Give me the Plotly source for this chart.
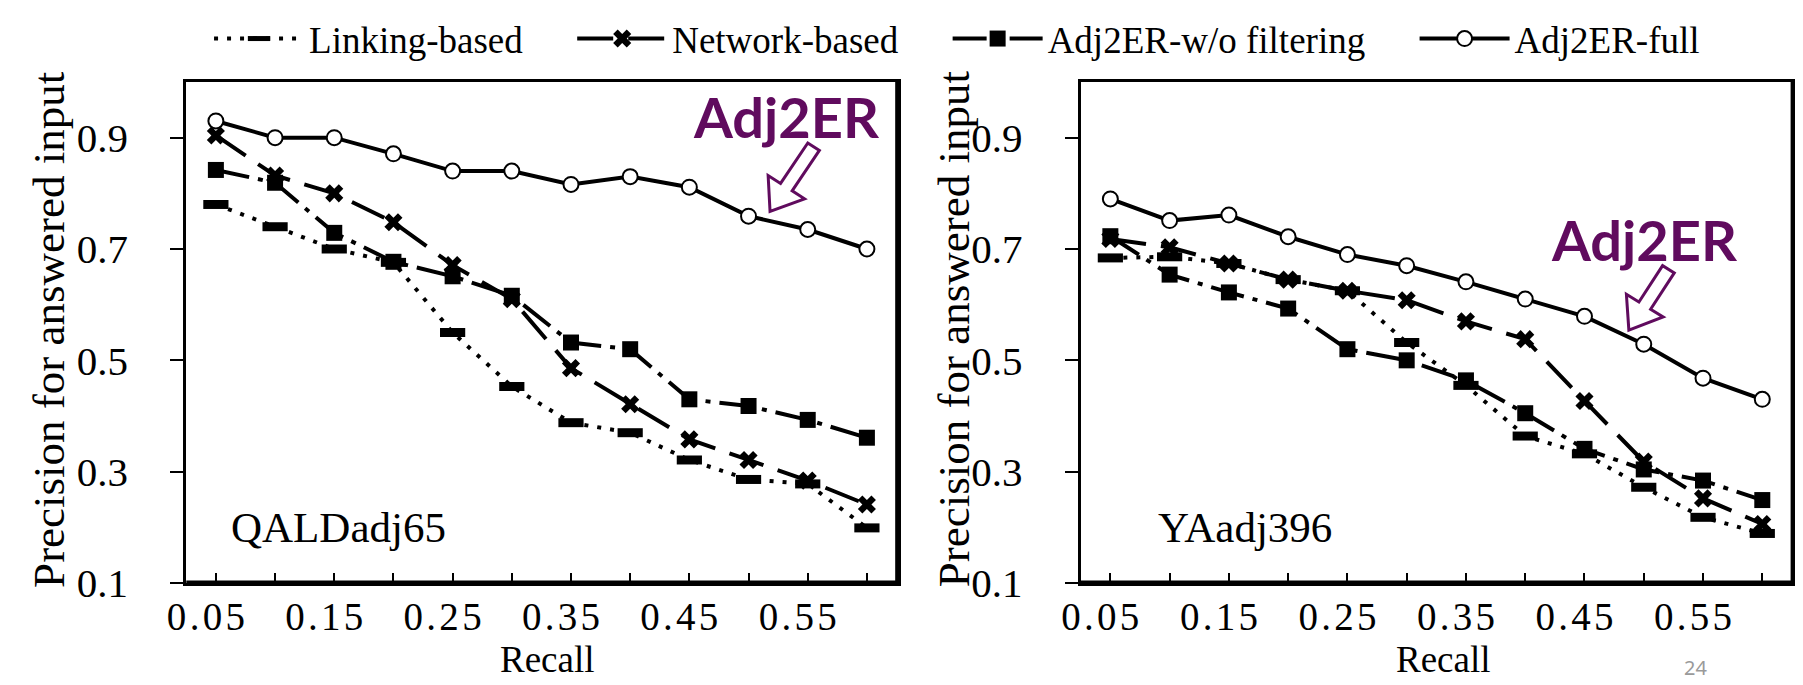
import plotly.graph_objects as go
import math

# ---------------- data ----------------
recall = [0.05, 0.10, 0.15, 0.20, 0.25, 0.30, 0.35, 0.40, 0.45, 0.50, 0.55, 0.60]

qald_linking = [0.780, 0.740, 0.700, 0.676, 0.550, 0.453, 0.388, 0.370, 0.321, 0.286, 0.278, 0.199]
qald_network = [0.904, 0.832, 0.800, 0.748, 0.671, 0.610, 0.486, 0.421, 0.358, 0.321, 0.284, 0.241]
qald_wo      = [0.842, 0.819, 0.729, 0.677, 0.651, 0.616, 0.532, 0.520, 0.430, 0.418, 0.393, 0.361]
qald_full    = [0.930, 0.900, 0.900, 0.871, 0.840, 0.840, 0.816, 0.830, 0.811, 0.759, 0.735, 0.700]

ya_linking = [0.684, 0.686, 0.674, 0.645, 0.625, 0.532, 0.455, 0.364, 0.332, 0.272, 0.218, 0.189]
ya_network = [0.718, 0.703, 0.674, 0.645, 0.625, 0.608, 0.570, 0.538, 0.427, 0.318, 0.252, 0.206]
ya_wo      = [0.723, 0.654, 0.622, 0.593, 0.520, 0.500, 0.464, 0.405, 0.341, 0.304, 0.284, 0.249]
ya_full    = [0.790, 0.751, 0.761, 0.722, 0.690, 0.670, 0.641, 0.610, 0.579, 0.529, 0.468, 0.430]

series_names = ["Linking-based", "Network-based", "Adj2ER-w/o filtering", "Adj2ER-full"]
panel_labels = ["QALDadj65", "YAadj396"]
x_tick_vals = [0.05, 0.10, 0.15, 0.20, 0.25, 0.30, 0.35, 0.40, 0.45, 0.50, 0.55, 0.60]
x_tick_text = ["0.05", "", "0.15", "", "0.25", "", "0.35", "", "0.45", "", "0.55", ""]
y_tick_vals = [0.1, 0.3, 0.5, 0.7, 0.9]
y_tick_text = ["0.1", "0.3", "0.5", "0.7", "0.9"]

# ---------------- layout geometry (page pixels; page has an 8px body margin) ----------------
OFF = 8
PAGE_W, PAGE_H = 1803, 685
W, H = PAGE_W - OFF, PAGE_H - OFF
TOP, BOT = 64, 583            # plot area top / bottom in page pixels
MT, MB = TOP - OFF, PAGE_H - BOT
PH = BOT - TOP


def px(x):
    return (x - OFF) / W


def py(y):
    return (BOT - y) / PH


SERIF = "Liberation Serif"
PURPLE = "#600B5E"
HS = "\u200a"


def spaced(s):
    return HS.join(list(s)) if s else s


styles = [
    dict(line=dict(color="black", width=4, dash="4px,9px"),
         marker=dict(symbol="line-ew", size=18, line=dict(color="black", width=9))),
    dict(line=dict(color="black", width=4, dash="36px,15px"),
         marker=dict(symbol="x", size=16, color="black", line=dict(width=0))),
    dict(line=dict(color="black", width=4, dash="34px,9px,5px,9px"),
         marker=dict(symbol="square", size=16, color="black", line=dict(width=0))),
    dict(line=dict(color="black", width=4),
         marker=dict(symbol="circle", size=15, color="white", line=dict(color="black", width=2))),
]

PAD = "\u2003\u2009"

fig = go.Figure()
panels = [
    ("x", "y", [qald_linking, qald_network, qald_wo, qald_full]),
    ("x2", "y2", [ya_linking, ya_network, ya_wo, ya_full]),
]
for pi, (xa, ya, data) in enumerate(panels):
    for si, vals in enumerate(data):
        fig.add_trace(go.Scatter(
            x=recall, y=vals, mode="lines+markers",
            name=series_names[si] + (PAD if si < 3 else ""),
            legendgroup=series_names[si],
            xaxis=xa, yaxis=ya, showlegend=(pi == 0), cliponaxis=False,
            line=styles[si]["line"], marker=styles[si]["marker"],
        ))

xaxis_common = dict(
    range=[0.025, 0.626], showgrid=False, zeroline=False,
    showline=True, mirror=True, linecolor="black", linewidth=3,
    ticks="inside", ticklen=10, tickwidth=2, tickcolor="black",
    tickvals=x_tick_vals, ticktext=[spaced(t) for t in x_tick_text],
    tickfont=dict(family=SERIF, size=39, color="black"),
    ticklabelshift=-10, ticklabelstandoff=-3,
)
yaxis_common = dict(
    range=[0.1, 1.0], showgrid=False, zeroline=False,
    showline=True, mirror=True, linecolor="black", linewidth=3,
    ticks="outside", ticklen=13, tickwidth=2, tickcolor="black",
    tickvals=y_tick_vals, ticktext=y_tick_text,
    tickfont=dict(family=SERIF, size=41, color="black"),
    ticklabelstandoff=34, domain=[0, 1],
)

fig.update_layout(
    width=W, height=H,
    margin=dict(l=0, r=0, t=MT, b=MB),
    paper_bgcolor="white", plot_bgcolor="white",
    xaxis=dict(domain=[px(169), px(888)], anchor="y", **xaxis_common),
    yaxis=dict(anchor="x", **yaxis_common),
    xaxis2=dict(domain=[px(1073), px(1793)], anchor="y2", **xaxis_common),
    yaxis2=dict(anchor="x2", **yaxis_common),
    showlegend=True,
    legend=dict(orientation="h", x=px(192), xanchor="left", y=py(19), yanchor="middle",
                font=dict(family=SERIF, size=37, color="black"),
                itemwidth=90, bgcolor="rgba(0,0,0,0)"),
)

# heavier bottom / right frame edges
shapes = []
for xr, yr in [("x domain", "y domain"), ("x2 domain", "y2 domain")]:
    shapes.append(dict(type="line", xref=xr, yref=yr, x0=0, x1=1, y0=0, y1=0,
                       line=dict(color="black", width=5)))
    shapes.append(dict(type="line", xref=xr, yref=yr, x0=1, x1=1, y0=0, y1=1,
                       line=dict(color="black", width=5)))


def arrow_path(T, P, sw=7, hw=22, hl=30):
    dx, dy = P[0] - T[0], P[1] - T[1]
    L = math.hypot(dx, dy)
    ux, uy = dx / L, dy / L
    nx, ny = uy, -ux
    B = (P[0] - ux * hl, P[1] - uy * hl)
    pts = [
        (T[0] + nx * sw, T[1] + ny * sw),
        (B[0] + nx * sw, B[1] + ny * sw),
        (B[0] + nx * hw, B[1] + ny * hw),
        P,
        (B[0] - nx * hw, B[1] - ny * hw),
        (B[0] - nx * sw, B[1] - ny * sw),
        (T[0] - nx * sw, T[1] - ny * sw),
    ]
    return "M " + " L ".join(f"{px(x):.5f},{py(y):.5f}" for x, y in pts) + " Z"


for T, P in [((803, 131), (759, 198)), ((1667, 258), (1627, 321))]:
    shapes.append(dict(type="path", xref="paper", yref="paper", path=arrow_path(T, P),
                       fillcolor="white", line=dict(color=PURPLE, width=3)))
fig.update_layout(shapes=shapes)

ann = []
# y titles
for cx in [30, 945]:
    ann.append(dict(text="Precision for answered input", x=px(cx), y=py(320),
                    xref="paper", yref="paper", showarrow=False, textangle=-90,
                    xanchor="center", yanchor="middle",
                    font=dict(family=SERIF, size=45, color="black")))
# x titles
for cx in [534, 1440]:
    ann.append(dict(text="Recall", x=px(cx), y=py(662), xref="paper", yref="paper",
                    showarrow=False, xanchor="center", yanchor="middle",
                    font=dict(family=SERIF, size=37, color="black")))
# panel labels
for lbl, lx in zip(panel_labels, [212, 1149]):
    ann.append(dict(text=lbl, x=px(lx), y=py(526), xref="paper", yref="paper",
                    showarrow=False, xanchor="left", yanchor="middle",
                    font=dict(family=SERIF, size=43, color="black")))
# Adj2ER callouts
for cx, cy in [(776, 100), (1643, 227)]:
    ann.append(dict(text="<b>Adj2ER</b>", x=px(cx), y=py(cy), xref="paper", yref="paper",
                    showarrow=False, xanchor="center", yanchor="middle",
                    font=dict(family="Lato", size=56, color=PURPLE)))
# page number
ann.append(dict(text="24", x=px(1694), y=py(671), xref="paper", yref="paper",
                showarrow=False, xanchor="center", yanchor="middle",
                font=dict(family="Noto Sans", size=20, color="#9a9a9a")))
fig.update_layout(annotations=ann)

fig.write_html("out.html")
